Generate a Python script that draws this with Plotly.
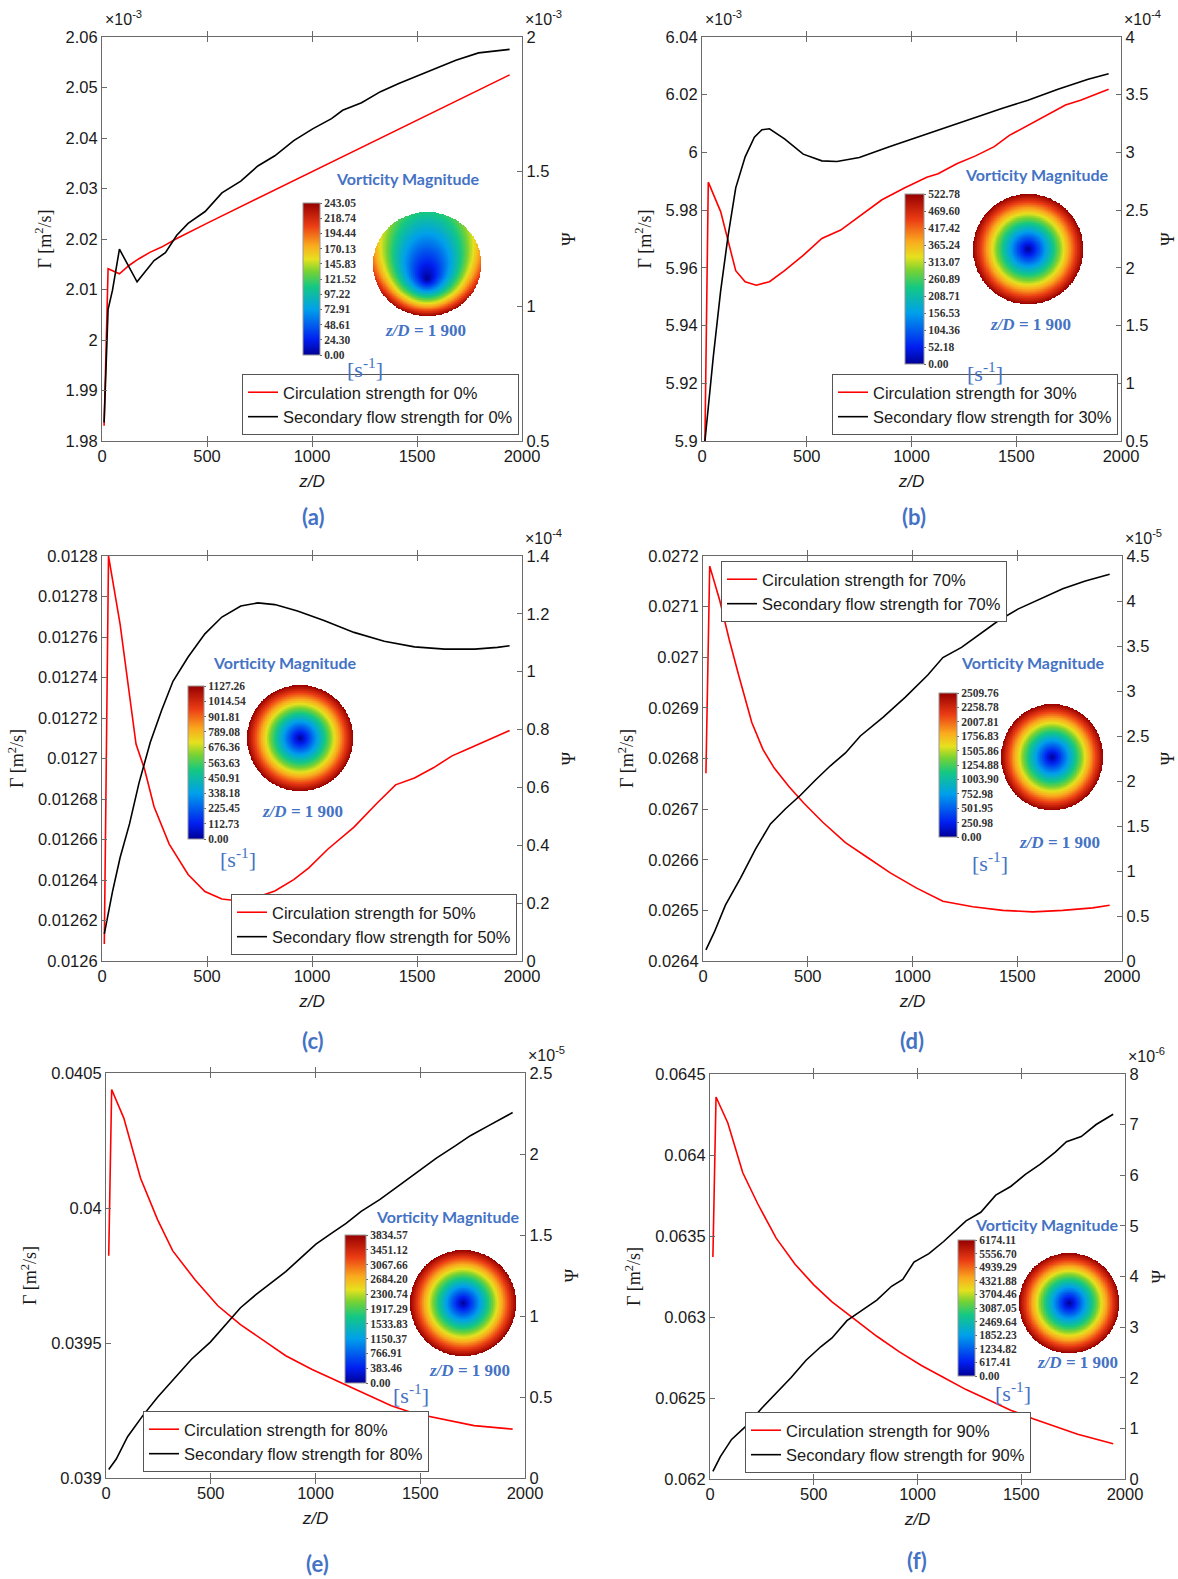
import numpy as np
import plotly.graph_objects as go

W, H = 1178, 1579

# ---------------- data ----------------
x_tick_vals = [0, 500, 1000, 1500, 2000]
x_tick_text = ["0", "500", "1000", "1500", "2000"]

# (a) 0 %  -- Gamma in 1e-3 m^2/s, Psi in 1e-3
z_a_gam = [10, 29, 83, 130, 176, 230, 284, 356, 499, 700, 1003, 1300, 1600, 1941]
gam_a = [1.983, 2.0141, 2.0131, 2.0148, 2.0161, 2.0174, 2.0184, 2.0201, 2.0231, 2.0272,
         2.0334, 2.0395, 2.0456, 2.0525]
z_a_psi = [10, 29, 50, 83, 167, 248, 302, 356, 410, 491, 571, 661, 742, 823, 913, 1003,
           1093, 1146, 1236, 1326, 1416, 1506, 1596, 1685, 1793, 1941]
psi_a = [0.569, 0.989, 1.06, 1.212, 1.091, 1.170, 1.199, 1.264, 1.308, 1.352, 1.421, 1.465,
         1.521, 1.559, 1.615, 1.659, 1.697, 1.728, 1.756, 1.797, 1.828, 1.856, 1.885, 1.914,
         1.941, 1.954]

# (b) 30 % -- Gamma in 1e-3, Psi in 1e-4
z_b_gam = [14, 30, 89, 161, 206, 259, 322, 394, 483, 572, 662, 751, 859, 966, 1073, 1127,
           1216, 1306, 1395, 1467, 1556, 1646, 1735, 1807, 1941]
gam_b = [5.900, 5.9897, 5.9795, 5.959, 5.9552, 5.954, 5.9552, 5.959, 5.9643, 5.9702, 5.9731,
         5.9778, 5.9836, 5.9877, 5.9914, 5.9926, 5.9961, 5.9988, 6.002, 6.0059, 6.0093,
         6.0128, 6.0164, 6.0181, 6.0219]
z_b_psi = [14, 54, 89, 125, 161, 206, 250, 286, 322, 394, 483, 572, 644, 751, 894, 1073,
           1252, 1431, 1556, 1699, 1843, 1941]
psi_b = [0.5, 1.231, 1.801, 2.284, 2.693, 2.962, 3.132, 3.196, 3.205, 3.117, 2.985, 2.927,
         2.921, 2.956, 3.050, 3.161, 3.272, 3.380, 3.453, 3.547, 3.634, 3.681]

# (c) 50 % -- Psi in 1e-4
z_c_gam = [11, 31, 86, 122, 162, 203, 248, 320, 410, 490, 571, 652, 733, 823, 913, 985,
           1075, 1200, 1308, 1398, 1488, 1578, 1667, 1739, 1847, 1941]
gam_c = [0.0126084, 0.0128, 0.0127665, 0.0127381, 0.0127071, 0.0126946, 0.0126762,
         0.0126577, 0.0126427, 0.0126343, 0.0126306, 0.0126296, 0.0126313, 0.0126346,
         0.0126402, 0.012646, 0.0126552, 0.0126661, 0.0126778, 0.012687, 0.0126904,
         0.0126954, 0.0127013, 0.0127046, 0.0127096, 0.0127138]
z_c_psi = [11, 50, 86, 131, 176, 230, 284, 338, 410, 490, 571, 661, 742, 823, 931, 1057,
           1200, 1344, 1488, 1632, 1775, 1883, 1941]
psi_c = [0.0937, 0.240, 0.357, 0.474, 0.615, 0.756, 0.867, 0.967, 1.051, 1.131, 1.189,
         1.227, 1.238, 1.232, 1.210, 1.177, 1.136, 1.105, 1.086, 1.078, 1.078, 1.084, 1.090]

# (d) 70 % -- Psi in 1e-5
z_d_gam = [14, 32, 80, 125, 170, 233, 286, 340, 411, 483, 572, 680, 787, 894, 1020, 1145,
           1288, 1431, 1574, 1717, 1860, 1941]
gam_d = [0.026771, 0.027180, 0.027112, 0.027035, 0.026965, 0.026871, 0.026818, 0.026781,
         0.026744, 0.026711, 0.026674, 0.026634, 0.026604, 0.026574, 0.026544, 0.026518,
         0.026507, 0.026500, 0.026497, 0.026500, 0.026505, 0.026510]
z_d_psi = [14, 54, 107, 179, 250, 322, 394, 465, 537, 608, 680, 751, 859, 966, 1073, 1145,
           1234, 1324, 1413, 1503, 1610, 1717, 1825, 1941]
psi_d = [0.124, 0.320, 0.620, 0.921, 1.241, 1.523, 1.692, 1.842, 2.011, 2.169, 2.312, 2.500,
         2.707, 2.932, 3.177, 3.372, 3.485, 3.635, 3.786, 3.910, 4.023, 4.135, 4.222, 4.297]

# (e) 80 % -- Psi in 1e-5
z_e_gam = [13, 27, 85, 129, 165, 246, 318, 426, 534, 642, 750, 858, 984, 1110, 1236, 1362,
           1469, 1613, 1757, 1941]
gam_e = [0.039823, 0.040439, 0.040333, 0.040212, 0.040110, 0.039957, 0.039842, 0.039733,
         0.039638, 0.039568, 0.039510, 0.039453, 0.039402, 0.039357, 0.039313, 0.039268,
         0.039240, 0.039217, 0.039194, 0.039181]
z_e_psi = [13, 49, 103, 174, 246, 336, 408, 498, 570, 642, 714, 786, 858, 930, 1002, 1074,
           1146, 1218, 1308, 1398, 1487, 1577, 1667, 1739, 1829, 1941]
psi_e = [0.053, 0.117, 0.255, 0.382, 0.499, 0.627, 0.733, 0.839, 0.945, 1.051, 1.130, 1.200,
         1.274, 1.359, 1.444, 1.508, 1.572, 1.646, 1.720, 1.805, 1.890, 1.975, 2.050, 2.113,
         2.177, 2.256]

# (f) 90 % -- Psi in 1e-6
z_f_gam = [14, 29, 86, 158, 230, 319, 409, 499, 588, 696, 804, 911, 1019, 1126, 1234, 1341,
           1449, 1557, 1664, 1772, 1943]
gam_f = [0.063370, 0.064358, 0.064198, 0.063890, 0.063699, 0.063487, 0.063327, 0.063200,
         0.063094, 0.062988, 0.062881, 0.062786, 0.062701, 0.062627, 0.062552, 0.062489,
         0.062425, 0.062372, 0.062323, 0.062276, 0.062217]
z_f_psi = [14, 50, 104, 176, 248, 319, 391, 463, 535, 588, 660, 732, 804, 875, 929, 983,
           1055, 1126, 1198, 1234, 1305, 1377, 1449, 1520, 1592, 1664, 1718, 1789, 1861, 1943]
psi_f = [0.150, 0.442, 0.782, 1.054, 1.394, 1.700, 2.005, 2.345, 2.617, 2.787, 3.127, 3.331,
         3.535, 3.807, 3.943, 4.283, 4.453, 4.691, 4.963, 5.099, 5.269, 5.608, 5.778, 6.016,
         6.220, 6.458, 6.662, 6.764, 7.002, 7.206]

# tick labels
lt_a = ["1.98", "1.99", "2", "2.01", "2.02", "2.03", "2.04", "2.05", "2.06"]
rt_a = ["0.5", "1", "1.5", "2"]
lt_b = ["5.9", "5.92", "5.94", "5.96", "5.98", "6", "6.02", "6.04"]
rt_b = ["0.5", "1", "1.5", "2", "2.5", "3", "3.5", "4"]
lt_c = ["0.0126", "0.01262", "0.01264", "0.01266", "0.01268", "0.0127", "0.01272",
        "0.01274", "0.01276", "0.01278", "0.0128"]
rt_c = ["0", "0.2", "0.4", "0.6", "0.8", "1", "1.2", "1.4"]
lt_d = ["0.0264", "0.0265", "0.0266", "0.0267", "0.0268", "0.0269", "0.027", "0.0271", "0.0272"]
rt_d = ["0", "0.5", "1", "1.5", "2", "2.5", "3", "3.5", "4", "4.5"]
lt_e = ["0.039", "0.0395", "0.04", "0.0405"]
rt_e = ["0", "0.5", "1", "1.5", "2", "2.5"]
lt_f = ["0.062", "0.0625", "0.063", "0.0635", "0.064", "0.0645"]
rt_f = ["0", "1", "2", "3", "4", "5", "6", "7", "8"]

# vorticity colour-bar labels
cb_a = ["0.00", "24.30", "48.61", "72.91", "97.22", "121.52", "145.83", "170.13", "194.44", "218.74", "243.05"]
cb_b = ["0.00", "52.18", "104.36", "156.53", "208.71", "260.89", "313.07", "365.24", "417.42", "469.60", "522.78"]
cb_c = ["0.00", "112.73", "225.45", "338.18", "450.91", "563.63", "676.36", "789.08", "901.81", "1014.54", "1127.26"]
cb_d = ["0.00", "250.98", "501.95", "752.98", "1003.90", "1254.88", "1505.86", "1756.83", "2007.81", "2258.78", "2509.76"]
cb_e = ["0.00", "383.46", "766.91", "1150.37", "1533.83", "1917.29", "2300.74", "2684.20", "3067.66", "3451.12", "3834.57"]
cb_f = ["0.00", "617.41", "1234.82", "1852.23", "2469.64", "3087.05", "3704.46", "4321.88", "4939.29", "5556.70", "6174.11"]

# ---------------- styling / layout ----------------
SANS = "Liberation Sans, Arial, sans-serif"
SERIF = "Liberation Serif, Times New Roman, serif"
HUM = "Lato, Open Sans, sans-serif"
BLUE = "#4472C4"
AXC = "#6a6a6a"
TXT = "#1a1a1a"

panels = [
    dict(tag="a", pct="0%", zg=z_a_gam, g=gam_a, zp=z_a_psi, p=psi_a, lt=lt_a, rt=rt_a,
         lexp="-3", rexp="-3", cb=cb_a, box=(102, 522, 37, 441),
         leg=(519, 435, "right", "bottom"), lab=(313, 516),
         vm=(408, 178), cbb=(303, 320, 203, 355), disk=(427, 264, 54, 52), ecc=0.3, tilt=0.55,
         zd=(425, 330), s1=(365, 368)),
    dict(tag="b", pct="30%", zg=z_b_gam, g=gam_b, zp=z_b_psi, p=psi_b, lt=lt_b, rt=rt_b,
         lexp="-3", rexp="-4", cb=cb_b, box=(702, 1121, 37, 441),
         leg=(1118, 435, "right", "bottom"), lab=(914, 516),
         vm=(1037, 174), cbb=(905, 924, 194, 364), disk=(1028, 249, 55, 55), ecc=0.0, tilt=0.0,
         zd=(1030, 324), s1=(985, 372)),
    dict(tag="c", pct="50%", zg=z_c_gam, g=gam_c, zp=z_c_psi, p=psi_c, lt=lt_c, rt=rt_c,
         lexp=None, rexp="-4", cb=cb_c, box=(102, 522, 556, 961),
         leg=(517, 955, "right", "bottom"), lab=(313, 1040),
         vm=(285, 662), cbb=(188, 204, 686, 839), disk=(300, 738, 53, 53), ecc=0.0, tilt=0.0,
         zd=(302, 812), s1=(238, 858)),
    dict(tag="d", pct="70%", zg=z_d_gam, g=gam_d, zp=z_d_psi, p=psi_d, lt=lt_d, rt=rt_d,
         lexp=None, rexp="-5", cb=cb_d, box=(703, 1122, 556, 961),
         leg=(721, 561, "left", "top"), lab=(912, 1040),
         vm=(1033, 663), cbb=(939, 957, 693, 837), disk=(1052, 757, 51, 53), ecc=0.0, tilt=0.0,
         zd=(1059, 843), s1=(990, 862)),
    dict(tag="e", pct="80%", zg=z_e_gam, g=gam_e, zp=z_e_psi, p=psi_e, lt=lt_e, rt=rt_e,
         lexp=None, rexp="-5", cb=cb_e, box=(106, 525, 1073, 1478),
         leg=(143, 1472, "left", "bottom"), lab=(317, 1563),
         vm=(448, 1216), cbb=(345, 366, 1235, 1383), disk=(463, 1303, 53, 53), ecc=0.0, tilt=0.0,
         zd=(469, 1370), s1=(411, 1394)),
    dict(tag="f", pct="90%", zg=z_f_gam, g=gam_f, zp=z_f_psi, p=psi_f, lt=lt_f, rt=rt_f,
         lexp=None, rexp="-6", cb=cb_f, box=(710, 1125, 1074, 1479),
         leg=(745, 1473, "left", "bottom"), lab=(917, 1560),
         vm=(1047, 1224), cbb=(958, 975, 1240, 1376), disk=(1069, 1303, 50, 50), ecc=0.0, tilt=0.0,
         zd=(1077, 1362), s1=(1013, 1392)),
]

VORT_SCALE = [[0.0, "rgb(0,0,150)"], [0.1, "rgb(0,30,240)"], [0.3, "rgb(0,160,235)"],
              [0.45, "rgb(20,200,130)"], [0.55, "rgb(120,210,50)"], [0.63, "rgb(230,225,30)"],
              [0.72, "rgb(250,170,30)"], [0.85, "rgb(235,60,20)"], [1.0, "rgb(150,0,0)"]]


def fx(px):
    return px / W


def fy(py):
    return 1 - py / H


def axname(kind, n):
    return kind if n == 1 else f"{kind}{n}"


def axkey(kind, n):
    return f"{kind}axis" if n == 1 else f"{kind}axis{n}"


def disk_image(vmax, ecc, tilt, n=161):
    """Rendered contour picture of the cross-section (decorative inset)."""
    g = np.linspace(-1, 1, n)
    X, Y = np.meshgrid(g, g)
    cx, cy = 0.0, -ecc
    dx, dy = X - cx, Y - cy
    d = np.hypot(dx, dy)
    dd = np.where(d == 0, 1, d)
    ux, uy = dx / dd, dy / dd
    cu = cx * ux + cy * uy
    s = -cu + np.sqrt(np.maximum(cu ** 2 - (cx ** 2 + cy ** 2) + 1, 0))
    t = np.clip(d / np.where(s == 0, 1, s), 0, 1)
    qy = cy + s * uy
    edge = 1 - tilt * ((1 + qy) / 2) ** 1.5
    val = vmax * edge * t ** 1.05
    inside = X ** 2 + Y ** 2 <= 1
    Z = [[float(val[i, j]) if inside[i, j] else None for j in range(n)] for i in range(n)]
    return g, Z


def note(x, y, text, font, xa="center", ya="middle"):
    return dict(x=fx(x), y=fy(y), xref="paper", yref="paper", xanchor=xa, yanchor=ya,
                showarrow=False, text=text, font=font)


fig = go.Figure()
layout = dict(width=W, height=H, margin=dict(l=0, r=0, t=0, b=0, autoexpand=False),
              paper_bgcolor="white", plot_bgcolor="rgba(0,0,0,0)", showlegend=True)
annotations = []

for i, P in enumerate(panels):
    x0, x1, y0, y1 = P["box"]
    nx, nyl, nyr = i + 1, 2 * i + 1, 2 * i + 2
    xid, ylid, yrid = axname("x", nx), axname("y", nyl), axname("y", nyr)
    leg = "legend" if i == 0 else f"legend{i + 1}"

    common = dict(showgrid=False, zeroline=False, showline=True, linecolor=AXC, linewidth=1.2,
                  ticks="inside", ticklen=5, tickcolor=AXC, tickwidth=1,
                  tickfont=dict(family=SANS, size=16.5, color=TXT), tickmode="array")

    layout[axkey("x", nx)] = dict(common, domain=[fx(x0), fx(x1)], anchor=ylid, range=[0, 2000],
                                  tickvals=x_tick_vals, ticktext=x_tick_text, mirror="allticks",
                                  title=dict(text="<i>z/D</i>", standoff=11,
                                             font=dict(family=SANS, size=17, color=TXT)))
    lvals = [float(v) for v in P["lt"]]
    rvals = [float(v) for v in P["rt"]]
    layout[axkey("y", nyl)] = dict(common, domain=[fy(y1), fy(y0)], anchor=xid,
                                   range=[lvals[0], lvals[-1]], tickvals=lvals, ticktext=P["lt"],
                                   title=dict(text="Γ [m<sup>2</sup>/s]", standoff=9,
                                              font=dict(family=SERIF, size=18, color=TXT)))
    layout[axkey("y", nyr)] = dict(common, overlaying=ylid, side="right", anchor=xid,
                                   range=[rvals[0], rvals[-1]], tickvals=rvals, ticktext=P["rt"],
                                   title=dict(text="Ψ", standoff=14,
                                              font=dict(family=SERIF, size=18, color=TXT)))

    fig.add_trace(go.Scatter(x=P["zg"], y=P["g"], xaxis=xid, yaxis=ylid, mode="lines",
                             line=dict(color="#ff0000", width=1.6), legend=leg,
                             name=f"Circulation strength for {P['pct']}"))
    fig.add_trace(go.Scatter(x=P["zp"], y=P["p"], xaxis=xid, yaxis=yrid, mode="lines",
                             line=dict(color="#000000", width=1.6), legend=leg,
                             name=f"Secondary flow strength for {P['pct']}"))

    lx, ly, lxa, lya = P["leg"]
    layout[leg] = dict(x=fx(lx), y=fy(ly), xanchor=lxa, yanchor=lya, bgcolor="white",
                       bordercolor="#555", borderwidth=1, tracegroupgap=0,
                       font=dict(family=SANS, size=16.5, color=TXT))

    # exponent labels (sit just above the top-left / top-right corners)
    efont = dict(family=SANS, size=16, color=TXT)
    if P["lexp"]:
        annotations.append(note(x0 + 1, y0 - 7, f"×10<sup>{P['lexp']}</sup>", efont,
                                xa="left", ya="bottom"))
    annotations.append(note(x1 + 1, y0 - 7, f"×10<sup>{P['rexp']}</sup>", efont,
                            xa="left", ya="bottom"))
    # panel label
    annotations.append(note(P["lab"][0], P["lab"][1], f"<b>({P['tag']})</b>",
                            dict(family=HUM, size=22, color=BLUE)))
    # inset texts
    annotations.append(note(P["vm"][0], P["vm"][1], "<b>Vorticity Magnitude</b>",
                            dict(family=HUM, size=16, color=BLUE)))
    annotations.append(note(P["zd"][0], P["zd"][1], "<b><i>z/D</i> = 1 900</b>",
                            dict(family=SERIF, size=17, color=BLUE)))
    annotations.append(note(P["s1"][0], P["s1"][1], "[s<sup>-1</sup>]",
                            dict(family=SERIF, size=22, color=BLUE)))

    # inset: contour disk + colour bar
    hx, hy = axname("x", 7 + i), axname("y", 13 + i)
    cx, cy, rx, ry = P["disk"]
    layout[axkey("x", 7 + i)] = dict(domain=[fx(cx - rx), fx(cx + rx)], anchor=hy,
                                     range=[-1, 1], visible=False)
    layout[axkey("y", 13 + i)] = dict(domain=[fy(cy + ry), fy(cy - ry)], anchor=hx,
                                      range=[-1, 1], visible=False)
    cbvals = [float(v) for v in P["cb"]]
    g, Z = disk_image(cbvals[-1], P["ecc"], P["tilt"])
    bx0, bx1, by0, by1 = P["cbb"]
    fig.add_trace(go.Heatmap(
        x=g, y=g, z=Z, xaxis=hx, yaxis=hy, colorscale=VORT_SCALE, zmin=0, zmax=cbvals[-1],
        hoverinfo="skip", showscale=True,
        colorbar=dict(x=fx(bx0), xanchor="left", y=fy(by0), yanchor="top",
                      len=(by1 - by0) / H, lenmode="fraction", thickness=bx1 - bx0,
                      thicknessmode="pixels", xpad=0, ypad=0, outlinewidth=1,
                      outlinecolor="#999", tickmode="array", tickvals=cbvals, ticktext=P["cb"],
                      ticks="outside", ticklen=2, tickcolor="#666",
                      tickfont=dict(family=SERIF, size=11.5, color="#333", weight="bold"))))

layout["annotations"] = annotations
fig.update_layout(**layout)
fig.write_html("out.html")
